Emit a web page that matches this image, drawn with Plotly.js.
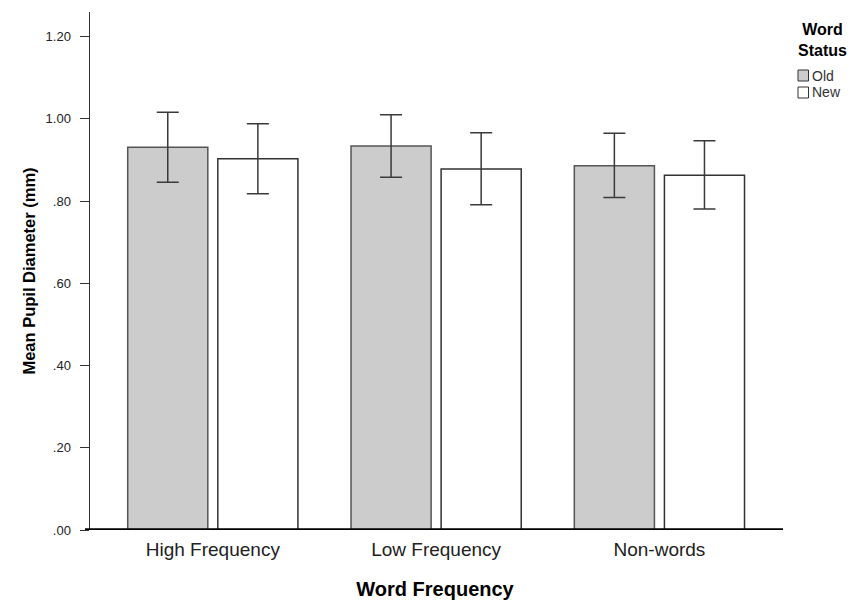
<!DOCTYPE html>
<html>
<head>
<meta charset="utf-8">
<script src="https://cdn.plot.ly/plotly-3.0.1.min.js"></script>
<style>html,body{margin:0;padding:0;background:#fff;}</style>
</head>
<body>
<div id="chart" style="width:852px;height:602px;"></div>
<script>
const categories = ["High Frequency", "Low Frequency", "Non-words"];
const seriesNames = ["Old", "New"];
const oldMeans = [0.931, 0.934, 0.886];
const oldErrUp = [0.085, 0.076, 0.079];
const oldErrDown = [0.085, 0.076, 0.077];
const newMeans = [0.903, 0.878, 0.863];
const newErrUp = [0.085, 0.088, 0.084];
const newErrDown = [0.085, 0.087, 0.082];
const yTickVals = [0, 0.2, 0.4, 0.6, 0.8, 1.0, 1.2];
const yTickText = [".00", ".20", ".40", ".60", ".80", "1.00", "1.20"];
const legendTitle = "Word<br>Status";

const FONT = "Liberation Sans, Arial, sans-serif";
const W = 852, H = 602;
const M = {l: 90, r: 72, t: 12, b: 72};
const PW = W - M.l - M.r, PH = H - M.t - M.b;
const px = x => (x - M.l) / PW;
const py = y => (H - M.b - y) / PH;

const fills = ["#cccccc", "#ffffff"];
const edges = ["#555555", "#333333"];

const traces = [
  {
    type: "bar", name: seriesNames[0], x: categories, y: oldMeans,
    marker: {color: fills[0], line: {color: edges[0], width: 1.5}},
    error_y: {type: "data", symmetric: false, array: oldErrUp, arrayminus: oldErrDown,
              color: "#3a3a3a", thickness: 1.5, width: 11}
  },
  {
    type: "bar", name: seriesNames[1], x: categories, y: newMeans,
    marker: {color: fills[1], line: {color: edges[1], width: 1.5}},
    error_y: {type: "data", symmetric: false, array: newErrUp, arrayminus: newErrDown,
              color: "#3a3a3a", thickness: 1.5, width: 11}
  }
];

// legend drawn as paper-anchored swatches + text
const shapes = [
  {type: "line", xref: "paper", yref: "y", x0: px(85), x1: px(783), y0: 0, y1: 0,
   line: {color: "#000", width: 3.5}}
];
const annotations = [{
  xref: "paper", yref: "paper", x: px(822), y: py(40), xanchor: "center", yanchor: "middle",
  text: "<b>" + legendTitle + "</b>", showarrow: false, align: "center",
  font: {size: 16, family: FONT, color: "#000"}
}];
const itemY = [75.5, 92.5];
seriesNames.forEach((n, i) => {
  shapes.push({type: "rect", xref: "paper", yref: "paper",
    x0: px(798), x1: px(808.5), y0: py(itemY[i] - 5.5), y1: py(itemY[i] + 5.5),
    fillcolor: fills[i], line: {color: "#333", width: 1}});
  annotations.push({xref: "paper", yref: "paper", x: px(809.5), y: py(itemY[i]),
    xanchor: "left", yanchor: "middle", text: n, showarrow: false,
    font: {size: 14, family: FONT, color: "#333"}});
});

const layout = {
  width: W, height: H,
  margin: M,
  paper_bgcolor: "#ffffff", plot_bgcolor: "#ffffff",
  font: {family: FONT, color: "#000"},
  barmode: "group", bargap: 0.193, bargroupgap: 0.111,
  showlegend: false,
  xaxis: {
    type: "category", range: [-0.55, 2.54],
    showline: false, ticks: "", showgrid: false, zeroline: false,
    tickfont: {size: 19, family: FONT, color: "#222"}, ticklabelstandoff: 6,
    title: {text: "<b>Word Frequency</b>", font: {size: 20, family: FONT}, standoff: 22}
  },
  yaxis: {
    range: [0, 1.26], tickvals: yTickVals, ticktext: yTickText,
    showline: true, linecolor: "#333", linewidth: 1.5, ticks: "outside", ticklen: 9,
    tickcolor: "#333", tickwidth: 1, showgrid: false, zeroline: false,
    tickfont: {size: 13, family: FONT, color: "#222"}, ticklabelstandoff: 6,
    title: {text: "<b>Mean Pupil Diameter (mm)</b>", font: {size: 16.5, family: FONT}, standoff: 6}
  },
  shapes: shapes,
  annotations: annotations
};

Plotly.newPlot("chart", traces, layout, {displayModeBar: false, staticPlot: true});
</script>
</body>
</html>
